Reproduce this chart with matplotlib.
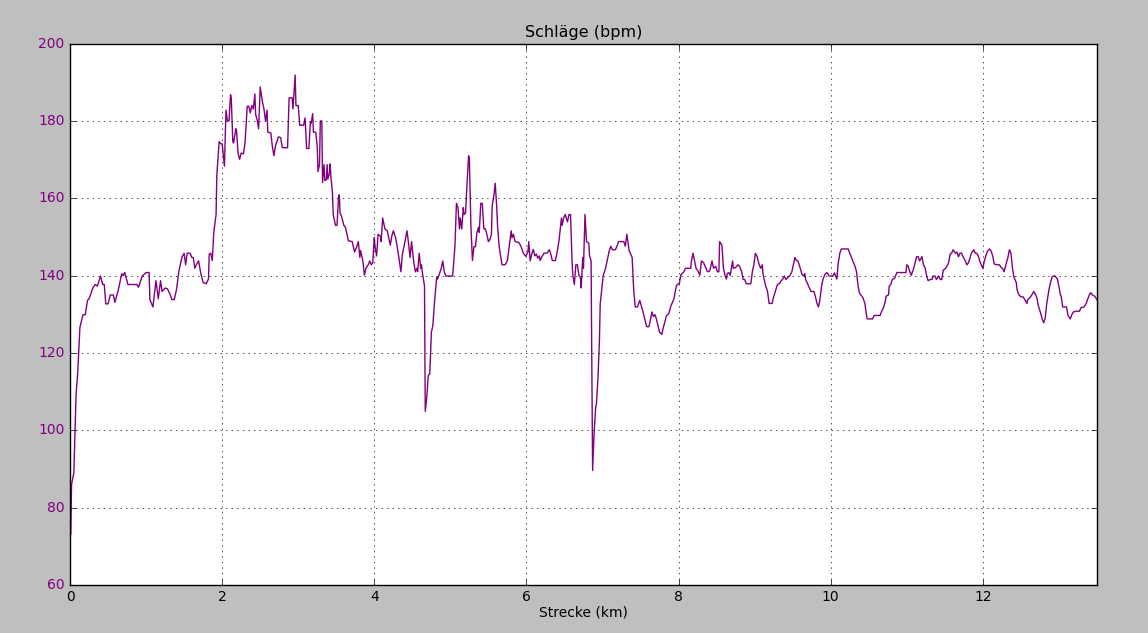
import matplotlib
matplotlib.use("Agg")
import matplotlib.pyplot as plt

# Herzfrequenz ueber die Strecke
strecke_km = [
    0.00, 0.01, 0.02, 0.05, 0.08, 0.10, 0.13, 0.17, 0.20, 0.23, 0.25, 0.30, 0.33, 0.36,
    0.40, 0.43, 0.45, 0.47, 0.50, 0.53, 0.57, 0.59, 0.63, 0.68, 0.70, 0.72, 0.76, 0.81,
    0.88, 0.90, 0.95, 1.00, 1.04, 1.05, 1.09, 1.13, 1.16, 1.19, 1.21, 1.25, 1.28, 1.31,
    1.34, 1.37, 1.40, 1.43, 1.47, 1.50, 1.52, 1.54, 1.58, 1.60, 1.62, 1.64, 1.66, 1.69,
    1.72, 1.75, 1.79, 1.82, 1.83, 1.85, 1.87, 1.89, 1.92, 1.93, 1.96, 1.98, 2.00, 2.03,
    2.05, 2.07, 2.09, 2.11, 2.12, 2.14, 2.15, 2.18, 2.19, 2.21, 2.23, 2.25, 2.28, 2.30,
    2.33, 2.35, 2.37, 2.39, 2.41, 2.43, 2.44, 2.46, 2.48, 2.50, 2.53, 2.55, 2.57, 2.59,
    2.60, 2.64, 2.66, 2.68, 2.70, 2.74, 2.77, 2.79, 2.86, 2.88, 2.92, 2.93, 2.96, 2.97,
    3.00, 3.02, 3.07, 3.09, 3.11, 3.14, 3.16, 3.17, 3.19, 3.20, 3.23, 3.25, 3.26, 3.28,
    3.29, 3.31, 3.32, 3.34, 3.35, 3.37, 3.38, 3.39, 3.41, 3.42, 3.43, 3.45, 3.46, 3.49,
    3.51, 3.53, 3.54, 3.55, 3.57, 3.60, 3.62, 3.64, 3.66, 3.71, 3.74, 3.77, 3.79, 3.81,
    3.82, 3.85, 3.87, 3.89, 3.92, 3.94, 3.96, 3.98, 4.00, 4.01, 4.03, 4.05, 4.08, 4.09,
    4.11, 4.14, 4.17, 4.19, 4.21, 4.23, 4.25, 4.28, 4.30, 4.32, 4.35, 4.37, 4.39, 4.43,
    4.45, 4.47, 4.49, 4.52, 4.54, 4.56, 4.57, 4.59, 4.61, 4.62, 4.63, 4.66, 4.67, 4.69,
    4.71, 4.73, 4.75, 4.77, 4.79, 4.82, 4.83, 4.85, 4.88, 4.90, 4.92, 4.94, 5.03, 5.06,
    5.08, 5.10, 5.12, 5.13, 5.15, 5.17, 5.18, 5.20, 5.22, 5.24, 5.25, 5.27, 5.29, 5.31,
    5.33, 5.35, 5.37, 5.38, 5.40, 5.42, 5.44, 5.46, 5.48, 5.50, 5.52, 5.54, 5.55, 5.57,
    5.59, 5.61, 5.62, 5.64, 5.66, 5.68, 5.72, 5.75, 5.77, 5.80, 5.81, 5.83, 5.85, 5.90,
    5.93, 5.96, 5.99, 6.02, 6.03, 6.05, 6.07, 6.09, 6.11, 6.13, 6.15, 6.17, 6.18, 6.21,
    6.23, 6.27, 6.30, 6.32, 6.34, 6.38, 6.40, 6.43, 6.46, 6.47, 6.49, 6.51, 6.54, 6.56,
    6.58, 6.60, 6.61, 6.63, 6.65, 6.67, 6.69, 6.71, 6.72, 6.74, 6.75, 6.77, 6.79, 6.82,
    6.83, 6.85, 6.87, 6.89, 6.91, 6.92, 6.94, 6.96, 6.97, 6.99, 7.01, 7.04, 7.07, 7.09,
    7.11, 7.13, 7.17, 7.19, 7.21, 7.28, 7.30, 7.32, 7.35, 7.37, 7.39, 7.41, 7.43, 7.46,
    7.49, 7.51, 7.53, 7.56, 7.58, 7.61, 7.63, 7.65, 7.67, 7.69, 7.71, 7.73, 7.75, 7.78,
    7.80, 7.82, 7.84, 7.87, 7.90, 7.92, 7.94, 7.96, 7.98, 8.01, 8.03, 8.07, 8.09, 8.16,
    8.17, 8.19, 8.21, 8.23, 8.25, 8.28, 8.30, 8.33, 8.36, 8.38, 8.41, 8.44, 8.46, 8.49,
    8.51, 8.53, 8.54, 8.57, 8.59, 8.61, 8.63, 8.64, 8.66, 8.68, 8.71, 8.72, 8.75, 8.78,
    8.80, 8.83, 8.85, 8.87, 8.89, 8.95, 8.97, 8.99, 9.01, 9.03, 9.06, 9.08, 9.10, 9.11,
    9.14, 9.17, 9.19, 9.23, 9.25, 9.28, 9.30, 9.33, 9.35, 9.37, 9.39, 9.41, 9.44, 9.46,
    9.49, 9.51, 9.53, 9.55, 9.57, 9.60, 9.62, 9.64, 9.66, 9.67, 9.69, 9.71, 9.74, 9.78,
    9.80, 9.82, 9.84, 9.86, 9.88, 9.90, 9.93, 9.95, 9.98, 10.03, 10.05, 10.08, 10.10, 10.12,
    10.14, 10.23, 10.25, 10.27, 10.29, 10.32, 10.34, 10.36, 10.38, 10.41, 10.43, 10.45, 10.47, 10.48,
    10.55, 10.57, 10.65, 10.67, 10.69, 10.71, 10.73, 10.76, 10.77, 10.79, 10.81, 10.84, 10.87, 10.91,
    10.95, 10.99, 11.00, 11.02, 11.04, 11.06, 11.09, 11.11, 11.13, 11.15, 11.17, 11.20, 11.22, 11.24,
    11.26, 11.28, 11.31, 11.33, 11.35, 11.37, 11.39, 11.42, 11.44, 11.46, 11.48, 11.51, 11.53, 11.55,
    11.57, 11.59, 11.61, 11.64, 11.66, 11.68, 11.70, 11.72, 11.74, 11.77, 11.79, 11.81, 11.83, 11.85,
    11.88, 11.90, 11.92, 11.94, 11.96, 11.98, 12.00, 12.02, 12.04, 12.06, 12.09, 12.11, 12.13, 12.15,
    12.19, 12.22, 12.24, 12.26, 12.28, 12.30, 12.33, 12.35, 12.37, 12.39, 12.41, 12.44, 12.45, 12.47,
    12.50, 12.53, 12.55, 12.58, 12.59, 12.62, 12.65, 12.67, 12.69, 12.71, 12.73, 12.76, 12.78, 12.80,
    12.82, 12.84, 12.87, 12.89, 12.91, 12.93, 12.95, 12.98, 13.00, 13.02, 13.03, 13.05, 13.10, 13.12,
    13.15, 13.17, 13.19, 13.23, 13.27, 13.29, 13.33, 13.36, 13.38, 13.40, 13.42, 13.44, 13.47, 13.50,
]
puls_bpm = [
    73, 73, 86, 89, 109.5, 114.6, 126.6, 129.9, 129.9, 133.6, 134, 136.8, 137.7, 137.3,
    139.9, 137.7, 137.7, 132.7, 132.7, 135, 135, 133.1, 135.9, 140.5, 140, 140.8, 137.7, 137.7,
    137.7, 137, 139.9, 140.8, 140.8, 133.8, 131.9, 138.7, 134, 138.7, 135.9, 136.8, 136.6, 135.4,
    133.8, 133.8, 136.4, 141, 144.7, 145.8, 142.8, 145.8, 145.8, 144.7, 144.7, 141.9, 142.8, 143.8,
    140.5, 138.2, 137.9, 139.1, 145.6, 145.8, 143.9, 151.2, 155.8, 166, 174.7, 174.1, 174.1, 168.3,
    182.8, 180, 180, 186.8, 185.8, 174.7, 174.3, 178, 177.2, 171.5, 170.1, 171.7, 171.5, 174.3,
    183.8, 183.8, 182.1, 184, 183.1, 187, 181.7, 180.3, 178, 188.8, 184.9, 183.1, 180, 182.8,
    177.1, 176.9, 173.4, 171, 173.5, 175.9, 175.7, 173.1, 173.1, 186, 186, 183.1, 191.9, 184,
    184, 178.9, 178.9, 180.8, 172.9, 172.9, 179.8, 179.4, 181.9, 177.1, 177.1, 173.4, 166.9, 168.7,
    180, 180, 164.1, 168.7, 164.6, 164.8, 168.7, 165, 166.4, 168.9, 165.5, 161.3, 155.8, 153,
    153, 160.4, 160.9, 156.2, 155.3, 153, 152.5, 150.7, 149, 148.8, 146.1, 147.5, 148.8, 144.7,
    146.5, 143.8, 140.1, 141.9, 142.8, 143.8, 142.8, 143.3, 149.8, 147.5, 145.1, 150.7, 150.2, 148.8,
    154.9, 152.1, 151.6, 149.8, 147.9, 150.2, 151.6, 149.8, 147.6, 145.1, 141, 145.6, 147.5, 151.6,
    148.4, 144.7, 148.8, 143.3, 141, 141.9, 141, 145.8, 141.9, 142.8, 141, 137.3, 104.9, 108.6,
    114.2, 114.6, 125.3, 127.1, 132.7, 139.6, 139.1, 140.1, 141.9, 143.8, 141, 139.9, 139.9, 147.5,
    158.7, 157.6, 152.1, 154.9, 152.1, 157.6, 155.8, 156.2, 164.1, 171, 170.3, 153, 143.9, 147.5,
    147.5, 151.2, 152.5, 151.2, 158.7, 158.7, 152.1, 152.1, 150.7, 148.8, 149.3, 150.7, 158.1, 160.4,
    163.9, 157.6, 153, 147.9, 145.1, 142.8, 142.8, 143.9, 147, 151.6, 149.8, 150.7, 148.8, 148.6,
    147.5, 145.8, 145, 146.1, 148.8, 143.8, 145.6, 146.8, 145.1, 145.6, 144.5, 145.1, 143.9, 145.1,
    145.8, 145.8, 146.7, 145.6, 143.9, 143.9, 145.6, 149.3, 154.9, 153, 155, 155.8, 153.9, 155.8,
    155.8, 143.8, 140.1, 137.7, 142.8, 142.8, 140.1, 139.6, 136.8, 144.7, 141.9, 155.8, 148.8, 148.4,
    145.1, 143.8, 89.6, 99.4, 105.8, 106.8, 113.2, 123.4, 132.7, 136.4, 140.1, 141.9, 144.7, 146.5,
    147.6, 146.7, 146.7, 147.6, 148.8, 148.8, 147.6, 150.7, 146.5, 145.6, 144.7, 136.4, 131.9, 131.9,
    133.6, 132.2, 130.8, 128.5, 126.8, 126.8, 128.5, 130.6, 129.4, 129.9, 128.7, 127.1, 125.4, 124.8,
    126.6, 128, 129.6, 130.1, 132.2, 133.1, 134, 136.4, 137.7, 137.9, 140.2, 141, 141.9, 141.9,
    143.8, 145.8, 143.8, 141.9, 141.4, 140.1, 143.8, 143.3, 141.9, 141, 141.2, 143.8, 141.9, 142.4,
    141, 141, 148.8, 147.9, 141.9, 140.1, 139.1, 140.5, 140.8, 140.1, 143.8, 141.9, 142.1, 142.8,
    142.5, 141, 139, 139, 137.9, 137.9, 141, 142.8, 145.8, 145.1, 142.8, 141.9, 142.8, 140.5,
    137.7, 135.9, 132.8, 132.8, 134.5, 136.4, 137.7, 138, 138.7, 139.1, 139.9, 139, 139.6, 139.9,
    141, 142.8, 144.7, 143.9, 143.8, 141.9, 140.5, 139.9, 140.5, 139, 138.2, 137.3, 135.9, 135.9,
    134.5, 132.8, 131.9, 134, 137.3, 139.1, 140.5, 140.8, 139.9, 139.9, 140.7, 139.1, 143.3, 145.8,
    146.9, 146.9, 145.8, 144.9, 143.8, 142.4, 141, 137.3, 135.4, 134.7, 134, 132.7, 129.9, 128.8,
    128.8, 129.7, 129.7, 130.8, 131.5, 132.7, 134.7, 135, 137.3, 137.7, 139, 139.3, 140.8, 140.8,
    140.8, 140.8, 142.8, 142.4, 141, 140.1, 141.8, 143.3, 144.9, 144.9, 143.8, 144.9, 142.8, 142.1,
    140.1, 138.7, 139, 139, 139.9, 139.9, 139, 139.9, 139, 139, 141.4, 141.9, 142.5, 143.3,
    145.6, 145.8, 146.7, 145.8, 146.1, 144.9, 145.8, 145.8, 144.9, 143.8, 142.8, 143.3, 144.5, 145.8,
    146.7, 145.8, 145.8, 145.1, 143.8, 142.8, 141.9, 143.8, 145.1, 146.3, 146.9, 146.3, 145.1, 143,
    142.8, 142.8, 142.1, 141.9, 141, 142.6, 144.7, 146.7, 145.8, 141.9, 139.6, 138.2, 136.4, 135.2,
    134.5, 134.5, 133.8, 132.8, 133.8, 134.3, 135.2, 135.9, 135.2, 134.3, 132.2, 130.3, 128.8, 127.8,
    129, 132.7, 136.4, 138.2, 139.6, 139.9, 139.9, 139.1, 137.3, 135, 134.7, 131.9, 131.9, 129.7,
    128.8, 129.9, 130.6, 130.8, 130.8, 131.7, 131.9, 132.8, 134, 135, 135.6, 135, 134.7, 133.8,
]

plt.style.use("classic")
fig = plt.figure(figsize=(11.48, 6.33), dpi=100)
ax = fig.add_axes([0.061, 0.076, 0.8945, 0.855])

ax.plot(strecke_km, puls_bpm, color="purple", linewidth=1.0)
ax.set_xlim(0, strecke_km[-1])
ax.set_ylim(60, 200)
ax.grid(True)

ax.set_title("Schläge (bpm)", fontsize=11.5)
ax.set_xlabel("Strecke (km)", fontsize=10, labelpad=1)
ax.tick_params(labelsize=10)
for lbl in ax.get_yticklabels():
    lbl.set_color("purple")

fig.savefig("out.png", dpi=100, facecolor=fig.get_facecolor())
